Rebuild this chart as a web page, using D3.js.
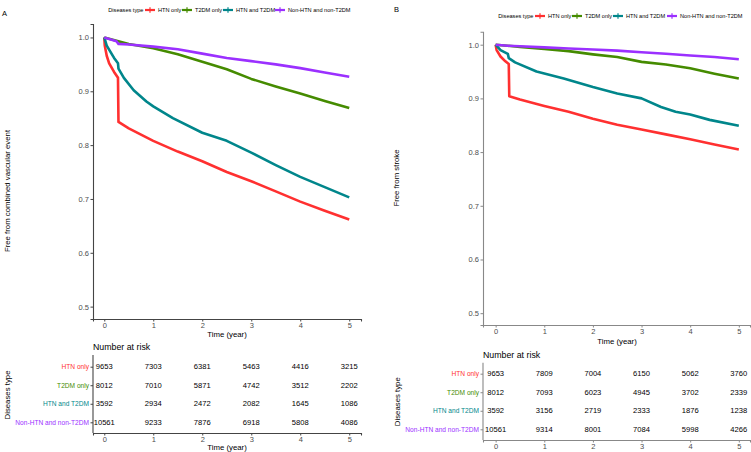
<!DOCTYPE html>
<html><head><meta charset="utf-8">
<script src="https://cdn.jsdelivr.net/npm/d3@7/dist/d3.min.js"></script>
<style>
body{margin:0;background:#fff;}
text{font-family:"Liberation Sans",Arial,sans-serif;}
</style>
</head><body>
<svg id="c" width="751" height="452"></svg>
<script>
// ---------- DATA ----------
const groups = ["HTN only", "T2DM only", "HTN and T2DM", "Non-HTN and non-T2DM"];
const timeTicks = [0, 1, 2, 3, 4, 5];
const survTicks = [0.5, 0.6, 0.7, 0.8, 0.9, 1.0];

// Panel A: combined vascular event — [time, survival]
const survA_HTN = [[0,1],[0.01,0.985],[0.05,0.966],[0.1,0.952],[0.2,0.936],[0.28,0.925],[0.29,0.843],[0.5,0.831],[1,0.808],[1.5,0.788],[2,0.770],[2.5,0.750],[3,0.733],[3.5,0.714],[4,0.695],[4.5,0.678],[5,0.662]];
const survA_T2DM = [[0,1],[0.5,0.988],[1,0.980],[1.5,0.969],[2,0.955],[2.5,0.941],[3,0.923],[3.5,0.909],[4,0.896],[4.5,0.882],[5,0.869]];
const survA_Both = [[0,1],[0.05,0.985],[0.12,0.974],[0.2,0.962],[0.28,0.952],[0.29,0.942],[0.4,0.925],[0.6,0.902],[0.86,0.881],[1,0.872],[1.4,0.850],[2,0.823],[2.5,0.808],[3,0.786],[3.5,0.763],[4,0.741],[4.5,0.722],[5,0.703]];
const survA_None = [[0,1],[0.25,0.993],[0.29,0.988],[0.5,0.987],[1,0.983],[1.5,0.978],[2,0.970],[2.5,0.962],[3,0.956],[3.5,0.950],[4,0.943],[4.5,0.935],[5,0.927]];

// Panel B: stroke
const survB_HTN = [[0,1],[0.02,0.990],[0.1,0.978],[0.2,0.969],[0.27,0.964],[0.28,0.904],[0.5,0.898],[1,0.886],[1.5,0.875],[2,0.862],[2.5,0.851],[3,0.842],[3.5,0.833],[4,0.824],[4.5,0.814],[5,0.805]];
const survB_T2DM = [[0,1],[0.5,0.996],[1,0.992],[1.5,0.988],[2,0.982],[2.5,0.977],[3,0.968],[3.5,0.963],[4,0.956],[4.5,0.946],[5,0.937]];
const survB_Both = [[0,1],[0.1,0.990],[0.25,0.983],[0.27,0.975],[0.4,0.967],[0.84,0.950],[1.4,0.937],[2,0.921],[2.5,0.909],[3,0.900],[3.4,0.884],[3.7,0.875],[4,0.870],[4.4,0.860],[5,0.849]];
const survB_None = [[0,1],[0.25,0.998],[0.5,0.997],[1,0.995],[1.5,0.993],[2,0.991],[2.5,0.989],[3,0.986],[3.5,0.983],[4,0.980],[4.5,0.977],[5,0.973]];

// Number at risk
const riskA_HTN = [9653, 7303, 6381, 5463, 4416, 3215];
const riskA_T2DM = [8012, 7010, 5871, 4742, 3512, 2202];
const riskA_Both = [3592, 2934, 2472, 2082, 1645, 1086];
const riskA_None = [10561, 9233, 7876, 6918, 5808, 4086];
const riskB_HTN = [9653, 7809, 7004, 6150, 5062, 3760];
const riskB_T2DM = [8012, 7093, 6023, 4945, 3702, 2339];
const riskB_Both = [3592, 3156, 2719, 2333, 1876, 1238];
const riskB_None = [10561, 9314, 8001, 7084, 5998, 4266];

// ---------- STYLE ----------
const colors = ["#FF3030", "#458B00", "#00868B", "#9B30FF"];
const svg = d3.select("#c");

function drawPanel(cfg) {
  const x = d3.scaleLinear().domain(cfg.xDom).range(cfg.xRange);
  const y = d3.scaleLinear().domain(cfg.yDom).range(cfg.yRange);
  const g = svg.append("g");

  // curves
  const line = d3.line().x(d => x(d[0])).y(d => y(d[1])).curve(d3.curveLinear);
  cfg.series.forEach((s, i) => {
    g.append("path").attr("d", line(s)).attr("fill", "none")
      .attr("stroke", colors[i]).attr("stroke-width", 2.6)
      .attr("stroke-linejoin", "round").attr("stroke-linecap", "butt");
  });
  // draw purple on top matching reference order already

  // axes
  const ya = g.append("g").attr("transform", `translate(${cfg.xRange[0]},0)`)
    .call(d3.axisLeft(y).tickValues(survTicks).tickFormat(d3.format(".1f")).tickSizeOuter(0).tickSize(2.5).tickPadding(1.5));
  const xa = g.append("g").attr("transform", `translate(0,${cfg.yRange[0]})`)
    .call(d3.axisBottom(x).tickValues(timeTicks).tickFormat(d3.format("d")).tickSizeOuter(0).tickSize(2.5).tickPadding(1.5));
  [ya, xa].forEach(a => {
    a.select(".domain").attr("stroke", cfg.axisColor).attr("stroke-width", 1.1);
    a.selectAll(".tick line").attr("stroke", cfg.axisColor);
    a.selectAll("text").attr("fill", "#4d4d4d").style("font-size", "7.5px").style("font-family", "Liberation Sans, Arial, sans-serif");
  });

  // axis titles
  g.append("text").attr("transform", `translate(${cfg.yTitlePos[0]},${cfg.yTitlePos[1]}) rotate(-90)`)
    .attr("text-anchor", "middle").attr("dominant-baseline", "central")
    .style("font-size", "7.8px").attr("fill", "#000").text(cfg.yTitle);
  g.append("text").attr("x", cfg.xTitlePos[0]).attr("y", cfg.xTitlePos[1])
    .attr("text-anchor", "middle").attr("dominant-baseline", "central")
    .style("font-size", "7.8px").attr("fill", "#000").text("Time (year)");

  // panel label
  g.append("text").attr("x", cfg.tagPos[0]).attr("y", cfg.tagPos[1])
    .attr("dominant-baseline", "central").style("font-size", "7.5px").attr("fill", "#000").text(cfg.tag);

  // legend
  const lg = g.append("g");
  let lx = cfg.legend.x0;
  const ly = cfg.legend.y;
  const t0 = lg.append("text").attr("x", lx).attr("y", ly).attr("dominant-baseline", "central")
    .style("font-size", "5.6px").attr("fill", "#000").text("Diseases type");
  cfg.legend.marks.forEach((mx, i) => {
    lg.append("line").attr("x1", mx - 5).attr("x2", mx + 5).attr("y1", ly).attr("y2", ly)
      .attr("stroke", colors[i]).attr("stroke-width", 2.2);
    lg.append("line").attr("x1", mx).attr("x2", mx).attr("y1", ly - 2.8).attr("y2", ly + 2.8)
      .attr("stroke", colors[i]).attr("stroke-width", 1.2);
    lg.append("text").attr("x", mx + 8).attr("y", ly).attr("dominant-baseline", "central")
      .style("font-size", "5.6px").attr("fill", "#000").text(groups[i]);
  });

  // risk table
  const rt = cfg.risk;
  const ry = d3.scalePoint().domain(groups).range(rt.rows);
  const rx = d3.scaleLinear().domain(cfg.xDom).range(cfg.xRange);
  const tg = svg.append("g");
  tg.append("text").attr("x", cfg.xRange[0]).attr("y", rt.titleY).attr("dominant-baseline", "central")
    .style("font-size", "8.8px").attr("fill", "#000").text("Number at risk");
  rt.values.forEach((vals, i) => {
    tg.selectAll(null).data(vals).enter().append("text")
      .attr("x", (d, j) => rx(timeTicks[j])).attr("y", ry(groups[i]))
      .attr("text-anchor", "middle").attr("dominant-baseline", "central")
      .style("font-size", "7.6px").attr("fill", "#000").text(d => d);
  });
  const ta = tg.append("g").attr("transform", `translate(${cfg.xRange[0]},0)`)
    .call(d3.axisLeft(ry).tickSizeOuter(0).tickSize(2.5).tickPadding(1.5));
  ta.select(".domain").attr("d", `M0,${rt.axisTop}V${rt.axisBottom}`).attr("stroke", cfg.axisColor).attr("stroke-width", 1.1);
  ta.selectAll(".tick line").attr("stroke", cfg.axisColor);
  ta.selectAll("text").style("font-size", "6.6px").style("font-family", "Liberation Sans, Arial, sans-serif")
    .attr("fill", (d, i) => colors[i]);
  const tb = tg.append("g").attr("transform", `translate(0,${rt.axisBottom})`)
    .call(d3.axisBottom(rx).tickValues(timeTicks).tickFormat(d3.format("d")).tickSizeOuter(0).tickSize(2.5).tickPadding(1.5));
  tb.select(".domain").attr("stroke", cfg.axisColor).attr("stroke-width", 1.1);
  tb.selectAll(".tick line").attr("stroke", cfg.axisColor);
  tb.selectAll("text").attr("fill", "#4d4d4d").style("font-size", "7.5px").style("font-family", "Liberation Sans, Arial, sans-serif");
  tg.append("text").attr("x", rt.xTitlePos[0]).attr("y", rt.xTitlePos[1])
    .attr("text-anchor", "middle").attr("dominant-baseline", "central")
    .style("font-size", "7.8px").attr("fill", "#000").text("Time (year)");
  tg.append("text").attr("transform", `translate(${rt.yTitlePos[0]},${rt.yTitlePos[1]}) rotate(-90)`)
    .attr("text-anchor", "middle").attr("dominant-baseline", "central")
    .style("font-size", "7.8px").attr("fill", "#000").text("Diseases type");
}

drawPanel({
  tag: "A", tagPos: [2, 13],
  xDom: [-0.23, 5.24], xRange: [93, 361],
  yDom: [0.477, 1.025], yRange: [319, 24],
  axisColor: "#444",
  series: [survA_HTN, survA_T2DM, survA_Both, survA_None],
  yTitle: "Free from combined vascular event", yTitlePos: [7, 191],
  xTitlePos: [227, 334],
  legend: { x0: 108.3, y: 10, marks: [150, 187, 228, 280] },
  risk: {
    titleY: 347, rows: [366.7, 422.3], axisTop: 355, axisBottom: 433,
    values: [riskA_HTN, riskA_T2DM, riskA_Both, riskA_None],
    xTitlePos: [227, 447.3], yTitlePos: [7, 395]
  }
});

drawPanel({
  tag: "B", tagPos: [394, 9.5],
  xDom: [-0.26, 5.23], xRange: [483, 750],
  yDom: [0.478, 1.0242], yRange: [325, 31.7],
  axisColor: "#888",
  series: [survB_HTN, survB_T2DM, survB_Both, survB_None],
  yTitle: "Free from stroke", yTitlePos: [396, 178],
  xTitlePos: [617, 341],
  legend: { x0: 498.3, y: 16, marks: [540, 577, 618, 672] },
  risk: {
    titleY: 354.7, rows: [373.7, 429.3], axisTop: 362.7, axisBottom: 440,
    values: [riskB_HTN, riskB_T2DM, riskB_Both, riskB_None],
    xTitlePos: [617, 457], yTitlePos: [397, 401.7]
  }
});
</script>
</body></html>
